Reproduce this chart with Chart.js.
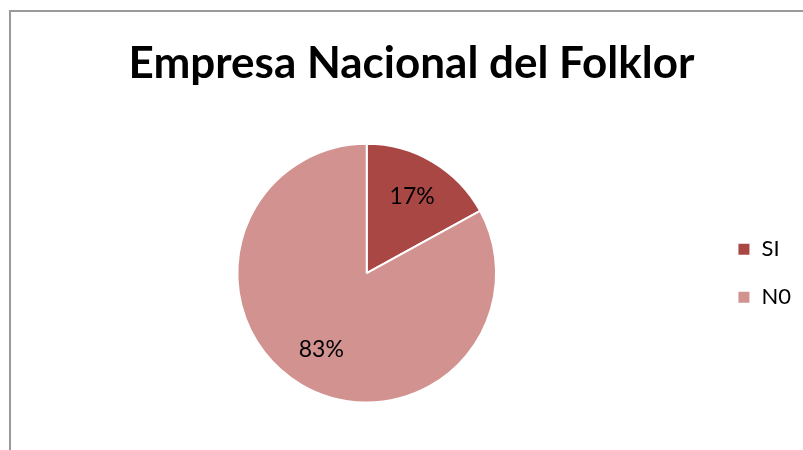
<!DOCTYPE html>
<html>
<head>
<meta charset="utf-8">
<script src="https://cdn.jsdelivr.net/npm/chart.js@4.4.0/dist/chart.umd.min.js"></script>
<style>
  html, body { margin: 0; padding: 0; background: #fff; }
  #wrap { position: relative; width: 803px; height: 450px; overflow: hidden; }
  #frame { position: absolute; left: 9px; top: 10px; width: 820px; height: 460px;
           border-left: 2px solid #9a9a9a; border-top: 2px solid #9a9a9a; box-sizing: border-box; }
  #c { position: absolute; left: 0; top: 0; }
</style>
</head>
<body>
<div id="wrap">
  <div id="frame"></div>
  <canvas id="c" width="803" height="450"></canvas>
</div>
<script>
const titleText = "Empresa Nacional del Folklor";
const categories = ["SI", "N0"];
const values = [17, 83];
const percentLabels = ["17%", "83%"];
const colors = ["#A94744", "#D19290"];

const FONT = "Lato, 'Open Sans', sans-serif";

const pctPlugin = {
  id: 'pctLabels',
  afterDatasetsDraw(chart) {
    const ctx = chart.ctx;
    const meta = chart.getDatasetMeta(0);
    ctx.save();
    ctx.font = "23px " + FONT;
    ctx.fillStyle = "#000";
    ctx.textAlign = "center";
    ctx.textBaseline = "middle";
    meta.data.forEach((arc, i) => {
      const p = arc.getProps(['x','y','startAngle','endAngle','outerRadius'], true);
      const mid = (p.startAngle + p.endAngle) / 2;
      const r = p.outerRadius * 0.69;
      ctx.fillText(percentLabels[i], p.x + Math.cos(mid) * r, p.y + Math.sin(mid) * r);
    });
    ctx.restore();
  }
};

new Chart(document.getElementById('c'), {
  type: 'pie',
  data: {
    labels: categories,
    datasets: [{
      data: values,
      backgroundColor: colors,
      borderColor: "#ffffff",
      borderWidth: 2
    }]
  },
  options: {
    responsive: false,
    animation: false,
    layout: { padding: { left: 22, right: 2, top: 0, bottom: 46.5 } },
    plugins: {
      tooltip: { enabled: false },
      title: {
        display: true,
        text: titleText,
        color: "#000",
        font: { family: FONT, size: 44, weight: 'bold' },
        padding: { top: 37, bottom: 53 }
      },
      legend: {
        position: 'right',
        fullSize: false,
        labels: {
          boxWidth: 13,
          boxHeight: 13,
          padding: 26,
          color: "#000",
          font: { family: FONT, size: 22 }
        }
      }
    }
  },
  plugins: [pctPlugin]
});
</script>
</body>
</html>
